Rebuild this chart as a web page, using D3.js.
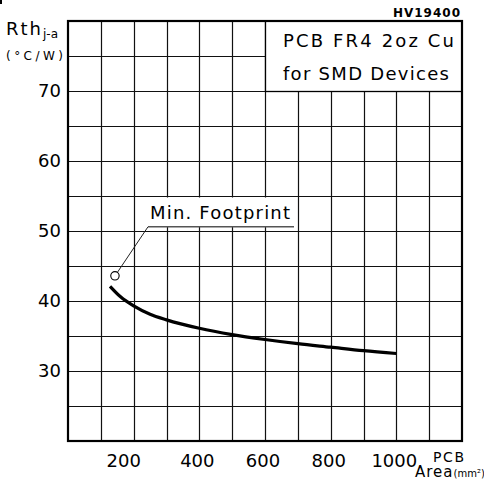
<!DOCTYPE html>
<html><head><meta charset="utf-8">
<script src="https://cdn.jsdelivr.net/npm/d3@7"></script>
<style>
html,body{margin:0;padding:0;background:#fff;}
svg{display:block;}
text{font-family:"DejaVu Sans",sans-serif;fill:#000;}
</style></head>
<body>
<script>
// ---- data ----
const areaValues = [128, 160, 200, 250, 300, 400, 500, 600, 700, 800, 900, 1000];
const rthValues  = [42.1, 40.6, 39.3, 38.1, 37.3, 36.1, 35.2, 34.5, 33.9, 33.4, 32.9, 32.5];
const xTicks = [200, 400, 600, 800, 1000];
const yTicks = [30, 40, 50, 60, 70];
const xGrid = [100,200,300,400,500,600,700,800,900,1000,1100];
const yGrid = [25,30,35,40,45,50,55,60,65,70,75];
const minFootprint = {area: 143, rth: 43.6};
const titleLines = ["PCB FR4 2oz Cu", "for SMD Devices"];

const W = 484, H = 485;
const svg = d3.select("body").append("svg").attr("width", W).attr("height", H);

const x = d3.scaleLinear().domain([0, 1200]).range([68, 462]);
const y = d3.scaleLinear().domain([20, 80]).range([441, 21]);

// grid
const g = svg.append("g");
g.selectAll("line.v").data(xGrid).enter().append("line")
  .attr("x1", d => Math.round(x(d)) + 0.5).attr("x2", d => Math.round(x(d)) + 0.5)
  .attr("y1", y(80)).attr("y2", y(20))
  .attr("stroke", "#111").attr("stroke-width", 1.2);
g.selectAll("line.h").data(yGrid).enter().append("line")
  .attr("y1", d => Math.round(y(d)) + 0.5).attr("y2", d => Math.round(y(d)) + 0.5)
  .attr("x1", x(0)).attr("x2", x(1200))
  .attr("stroke", "#111").attr("stroke-width", 1.2);

// title box (covers grid)
svg.append("rect")
  .attr("x", Math.round(x(600)) + 0.5).attr("y", y(80))
  .attr("width", x(1200) - Math.round(x(600)) - 0.5).attr("height", Math.round(y(70)) + 0.5 - y(80))
  .attr("fill", "#fff").attr("stroke", "#000").attr("stroke-width", 1.3);
svg.selectAll("text.title").data(titleLines).enter().append("text")
  .attr("x", 283).attr("y", (d, i) => 47 + i * 33)
  .attr("font-size", 18)
  .attr("textLength", (d, i) => i === 0 ? 171 : 166).attr("lengthAdjust", "spacing")
  .text(d => d);

// frame
svg.append("rect")
  .attr("x", x(0)).attr("y", y(80)).attr("width", x(1200) - x(0)).attr("height", y(20) - y(80))
  .attr("fill", "none").attr("stroke", "#000").attr("stroke-width", 2.2);

// Min. Footprint label
svg.append("rect")
  .attr("x", 148).attr("y", Math.round(y(55)) + 1.5)
  .attr("width", 146).attr("height", 226 - (Math.round(y(55)) + 1.5))
  .attr("fill", "#fff");
svg.append("text").attr("x", 150).attr("y", 219).attr("font-size", 18)
  .attr("textLength", 140).attr("lengthAdjust", "spacing")
  .text("Min. Footprint");
svg.append("line").attr("x1", 148).attr("x2", 294).attr("y1", 226.8).attr("y2", 226.8)
  .attr("stroke", "#555").attr("stroke-width", 1.6);
const cx = x(minFootprint.area), cy = y(minFootprint.rth);
svg.append("line").attr("x1", 148).attr("y1", 226.8).attr("x2", cx + 2.5).attr("y2", cy - 3.5)
  .attr("stroke", "#222").attr("stroke-width", 1);
svg.append("circle").attr("cx", cx).attr("cy", cy).attr("r", 4.2)
  .attr("fill", "#fff").attr("stroke", "#000").attr("stroke-width", 1.1);

// curve
const line = d3.line().x(d => x(d)).y((d, i) => y(rthValues[i])).curve(d3.curveMonotoneX);
svg.append("path").attr("d", line(areaValues))
  .attr("fill", "none").attr("stroke", "#000").attr("stroke-width", 3.2);

// y tick labels
svg.selectAll("text.yt").data(yTicks).enter().append("text")
  .attr("x", 61).attr("y", d => y(d)).attr("dy", "0.36em")
  .attr("text-anchor", "end").attr("font-size", 18).text(d => d);

// x tick labels
svg.selectAll("text.xt").data(xTicks).enter().append("text")
  .attr("x", d => x(d)).attr("dx", d => d === 200 ? -10 : -2)
  .attr("y", 467).attr("text-anchor", "middle").attr("font-size", 18).text(d => d);

// axis titles
const yt = svg.append("text").attr("x", 6).attr("y", 35).attr("font-size", 18);
yt.append("tspan").text("Rth").attr("letter-spacing", 2);
yt.append("tspan").text("j-a").attr("font-size", 12).attr("dy", 3);
svg.append("text").attr("x", 6).attr("y", 60).attr("font-size", 12)
  .attr("textLength", 57).attr("lengthAdjust", "spacing").text("(°C/W)");

svg.append("text").attr("x", 433).attr("y", 462).attr("font-size", 14)
  .attr("textLength", 31).attr("lengthAdjust", "spacing").text("PCB");
const at = svg.append("text").attr("x", 415).attr("y", 477).attr("font-size", 15);
at.append("tspan").text("Area").attr("letter-spacing", 1);
at.append("tspan").text("(mm²)").attr("font-size", 10);

// code label
svg.append("text").attr("x", 461).attr("y", 17).attr("text-anchor", "end")
  .attr("font-size", 12).attr("font-weight", "bold").attr("letter-spacing", 1).text("HV19400");

// corner mark
svg.append("rect").attr("x", 0).attr("y", 0).attr("width", 2).attr("height", 4).attr("fill", "#000");
</script>
</body></html>
